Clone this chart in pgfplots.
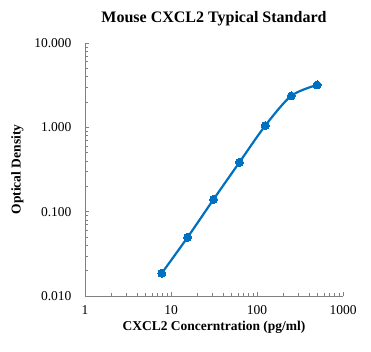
\documentclass[border=0pt]{standalone}
\usepackage{pgfplots}
\pgfplotsset{compat=1.18}
\usepackage{fontspec}
\setmainfont{Liberation Serif}
\definecolor{curveblue}{RGB}{0,112,192}
\definecolor{axgray}{RGB}{128,128,128}
\begin{document}
\begin{tikzpicture}
\useasboundingbox (-85pt,-55pt) rectangle (286pt,296pt);
\begin{axis}[
  at={(0pt,0pt)}, anchor=south west,
  scale only axis, width=258pt, height=253pt,
  xmode=log, ymode=log,
  xmin=1, xmax=1000, ymin=0.01, ymax=10,
  axis x line*=bottom, axis y line*=left,
  axis line style={axgray, line width=0.6pt},
  every tick/.style={axgray, line width=0.5pt},
  tick align=inside,
  major tick length=4pt, minor tick length=3pt,
  xtick={1,10,100,1000}, xticklabels={1,10,100,1000},
  ytick={0.01,0.1,1,10}, yticklabels={0.010,0.100,1.000,10.000},
  /pgf/number format/assume math mode=true,
  tick label style={font=\fontsize{13.5}{15}\selectfont, black},
  xticklabel style={yshift=-6pt},
  yticklabel style={xshift=-10pt},
  title={\textbf{Mouse CXCL2 Typical Standard}},
  title style={font=\fontsize{16}{18}\selectfont, at={(0.5,1)}, yshift=8pt},
  xlabel={\textbf{CXCL2 Concerntration (pg/ml)}},
  xlabel style={font=\fontsize{13.5}{15}\selectfont, yshift=0pt},
  ylabel={\textbf{Optical Density}},
  ylabel style={font=\fontsize{13.5}{15}\selectfont, yshift=4pt},
  clip=false,
]
\addplot[curveblue, line width=2.2pt, smooth, tension=0.5,
  mark=*, mark size=4pt, mark options={fill=curveblue, draw=curveblue, line width=0pt}]
  coordinates {
  (7.8,0.0186) (15.6,0.0497) (31.25,0.140) (62.5,0.385) (125,1.05) (250,2.36) (500,3.18)
  };
\end{axis}
\end{tikzpicture}
\end{document}
